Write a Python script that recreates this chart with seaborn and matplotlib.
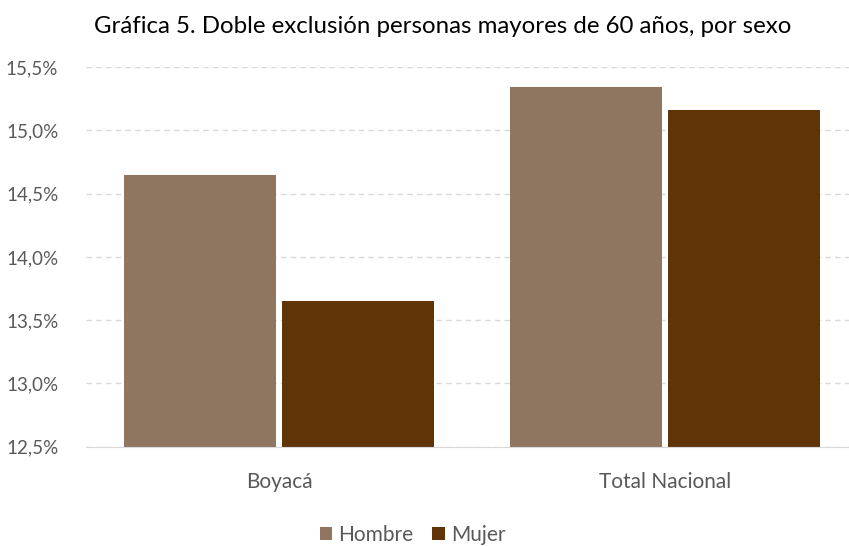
import pandas as pd
import numpy as np
import matplotlib
matplotlib.use("Agg")
import matplotlib.pyplot as plt
import seaborn as sns
from matplotlib.ticker import FuncFormatter

regiones = ["Boyacá", "Total Nacional"]
sexos = ["Hombre", "Mujer"]
hombre = [14.65, 15.34]
mujer = [13.65, 15.16]
colores = ["#8E7660", "#613408"]

df = pd.DataFrame({
    "Region": regiones * 2,
    "Sexo": ["Hombre"] * 2 + ["Mujer"] * 2,
    "Valor": hombre + mujer,
})

sns.set_style("white")
plt.rcParams["font.family"] = ["Lato", "DejaVu Sans"]

fig = plt.figure(figsize=(8.49, 5.46), dpi=100)
# axes runs a bit past the right edge so the two groups sit where the original has them
ax = fig.add_axes([86 / 849, 0.182, 772 / 849, 0.695])

sns.barplot(data=df, x="Region", y="Valor", hue="Sexo", hue_order=sexos,
            palette=colores, width=0.82, gap=0.038, saturation=1,
            linewidth=0, ax=ax)

ax.set_ylim(12.5, 15.5)
ax.set_xlim(-0.5, 1.5)
ax.set_yticks(np.arange(12.5, 15.51, 0.5))
ax.yaxis.set_major_formatter(FuncFormatter(lambda v, p: f"{v:.1f}%".replace(".", ",")))
ax.grid(axis="y", color="#D9D9D9", linestyle=(0, (4, 3)), linewidth=1)
ax.set_axisbelow(True)
for s in ["top", "right", "left"]:
    ax.spines[s].set_visible(False)
ax.spines["bottom"].set_color("#D9D9D9")
ax.tick_params(axis="y", length=0, labelsize=13.5, labelcolor="#595959", pad=20)
ax.tick_params(axis="x", length=0, labelsize=15, labelcolor="#595959", pad=18)
ax.set_xlabel("")
ax.set_ylabel("")

ax.text(0.462, 1.108, "Gráfica 5. Doble exclusión personas mayores de 60 años, por sexo",
        transform=ax.transAxes, ha="center", va="center", fontsize=17.3, color="black")

ax.legend(loc="center", bbox_to_anchor=(0.423, -0.232), ncol=2, frameon=False,
          fontsize=15, handlelength=0.6, handleheight=0.6, handletextpad=0.3,
          columnspacing=0.9, labelcolor="#595959")

fig.savefig("out.png", dpi=100)
